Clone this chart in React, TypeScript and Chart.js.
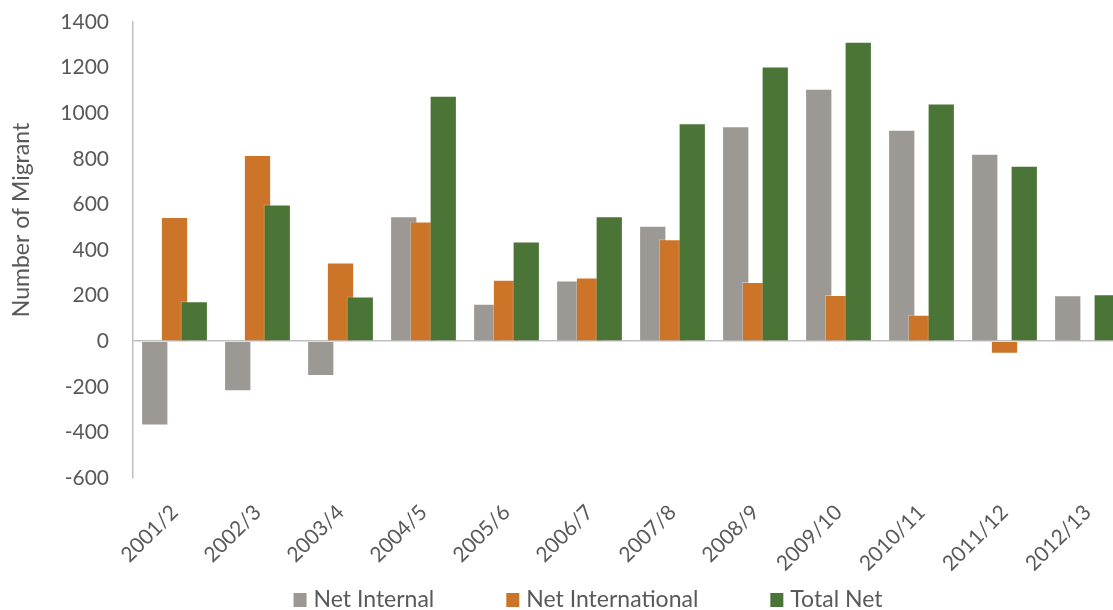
import React, { useEffect, useRef } from "react";
import { Chart, registerables } from "chart.js";

Chart.register(...registerables);

const categories = [
  "2001/2", "2002/3", "2003/4", "2004/5", "2005/6", "2006/7",
  "2007/8", "2008/9", "2009/10", "2010/11", "2011/12", "2012/13",
];
const netInternal = [-370, -220, -153, 548, 164, 266, 506, 943, 1107, 927, 822, 202];
const netInternational = [545, 817, 345, 525, 270, 279, 447, 260, 203, 116, -55, 3];
const totalNet = [175, 600, 196, 1076, 437, 548, 956, 1205, 1313, 1042, 769, 206];
const seriesNames = ["Net Internal", "Net International", "Total Net"];
const seriesColors = ["#9C9894", "#CC7529", "#4A7536"];
const yTicks = { min: -600, max: 1400, step: 200 };
const yAxisTitle = "Number of Migrant";

const FONT = "Lato, 'Open Sans', sans-serif";
const TEXT = "#595959";

// draw datasets so later series sit on top of earlier ones (as in the source)
const drawOrderPlugin = {
  id: "drawOrder",
  beforeDatasetDraw() {
    return false;
  },
  afterDatasetsDraw(chart: any) {
    const ctx = chart.ctx;
    const a = chart.chartArea;
    ctx.save();
    ctx.beginPath();
    ctx.rect(a.left, a.top, a.right - a.left, a.bottom - a.top);
    ctx.clip();
    for (let i = 0; i < chart.data.datasets.length; i++) {
      const meta = chart.getDatasetMeta(i);
      if (!meta.hidden) meta.controller.draw();
    }
    ctx.restore();
  },
};

// y-axis title placed as in the source, and legend below the axis labels
const annotationsPlugin = {
  id: "titleAndLegend",
  afterDraw(chart: any) {
    const ctx = chart.ctx;
    ctx.save();
    // axis title
    ctx.font = `23px ${FONT}`;
    ctx.fillStyle = TEXT;
    ctx.textAlign = "center";
    ctx.textBaseline = "middle";
    ctx.translate(22, 220);
    ctx.rotate(-Math.PI / 2);
    ctx.fillText(yAxisTitle, 0, 0);
    ctx.restore();

    ctx.save();
    const fontSize = 23;
    const box = 13;
    const boxGap = 7;
    const itemGap = 72;
    ctx.font = `${fontSize}px ${FONT}`;
    ctx.textBaseline = "middle";
    ctx.textAlign = "left";
    const ds = chart.data.datasets;
    const widths = ds.map((d: any) => box + boxGap + ctx.measureText(d.label).width);
    const total = widths.reduce((s: number, w: number) => s + w, 0) + itemGap * (ds.length - 1);
    let x = chart.width / 2 - total / 2;
    const cy = 600;
    ds.forEach((d: any, i: number) => {
      ctx.fillStyle = d.backgroundColor;
      ctx.fillRect(x, cy - 7, box, 14);
      ctx.fillStyle = TEXT;
      ctx.fillText(d.label, x + box + boxGap, cy);
      x += widths[i] + itemGap;
    });
    ctx.restore();
  },
};

export default function App() {
  const ref = useRef<HTMLCanvasElement | null>(null);

  useEffect(() => {
    if (!ref.current) return;
    const data = [netInternal, netInternational, totalNet];
    const chart = new Chart(ref.current, {
      type: "bar",
      data: {
        labels: categories,
        datasets: data.map((d, i) => ({
          label: seriesNames[i],
          data: d,
          backgroundColor: seriesColors[i],
          borderColor: "rgba(255,255,255,0.35)",
          borderWidth: 1,
          categoryPercentage: 0.714,
          barPercentage: 1.38,
        })),
      },
      plugins: [drawOrderPlugin, annotationsPlugin],
      options: {
        animation: false,
        responsive: false,
        maintainAspectRatio: false,
        layout: { padding: { top: 22, left: 0, right: 0, bottom: 38 } },
        plugins: {
          legend: { display: false },
          tooltip: { enabled: false },
        },
        scales: {
          x: {
            type: "category",
            grid: { display: false, drawTicks: false },
            border: { display: false },
            ticks: {
              font: { family: FONT, size: 21 },
              color: TEXT,
              minRotation: 45,
              maxRotation: 45,
              padding: 22,
              autoSkip: false,
            },
            afterFit(scale: any) {
              scale.height = 94;
            },
          },
          y: {
            type: "linear",
            position: "left",
            min: yTicks.min,
            max: yTicks.max,
            ticks: {
              stepSize: yTicks.step,
              font: { family: FONT, size: 21 },
              color: TEXT,
              padding: 24,
              callback: (v: any) => String(v),
            },
            grid: {
              drawTicks: false,
              color: (c: any) => (c.tick && c.tick.value === 0 ? "#BFBFBF" : "rgba(0,0,0,0)"),
              lineWidth: 1.5,
            },
            border: { display: true, color: "#BFBFBF", width: 1.5 },
            afterFit(scale: any) {
              scale.width = 133;
              scale.paddingTop = 0;
              scale.paddingBottom = 0;
            },
          },
          yRight: {
            type: "linear",
            position: "right",
            display: true,
            grid: { display: false },
            border: { display: false },
            ticks: { display: false },
            afterFit(scale: any) {
              scale.width = 47;
              scale.paddingTop = 0;
              scale.paddingBottom = 0;
            },
          },
        },
      },
    });
    return () => chart.destroy();
  }, []);

  return (
    <div
      style={{
        position: "fixed",
        left: 0,
        top: 0,
        width: 1113,
        height: 610,
        overflow: "hidden",
        background: "#fff",
      }}
    >
      <canvas ref={ref} width={1176} height={610} style={{ display: "block" }} />
    </div>
  );
}
